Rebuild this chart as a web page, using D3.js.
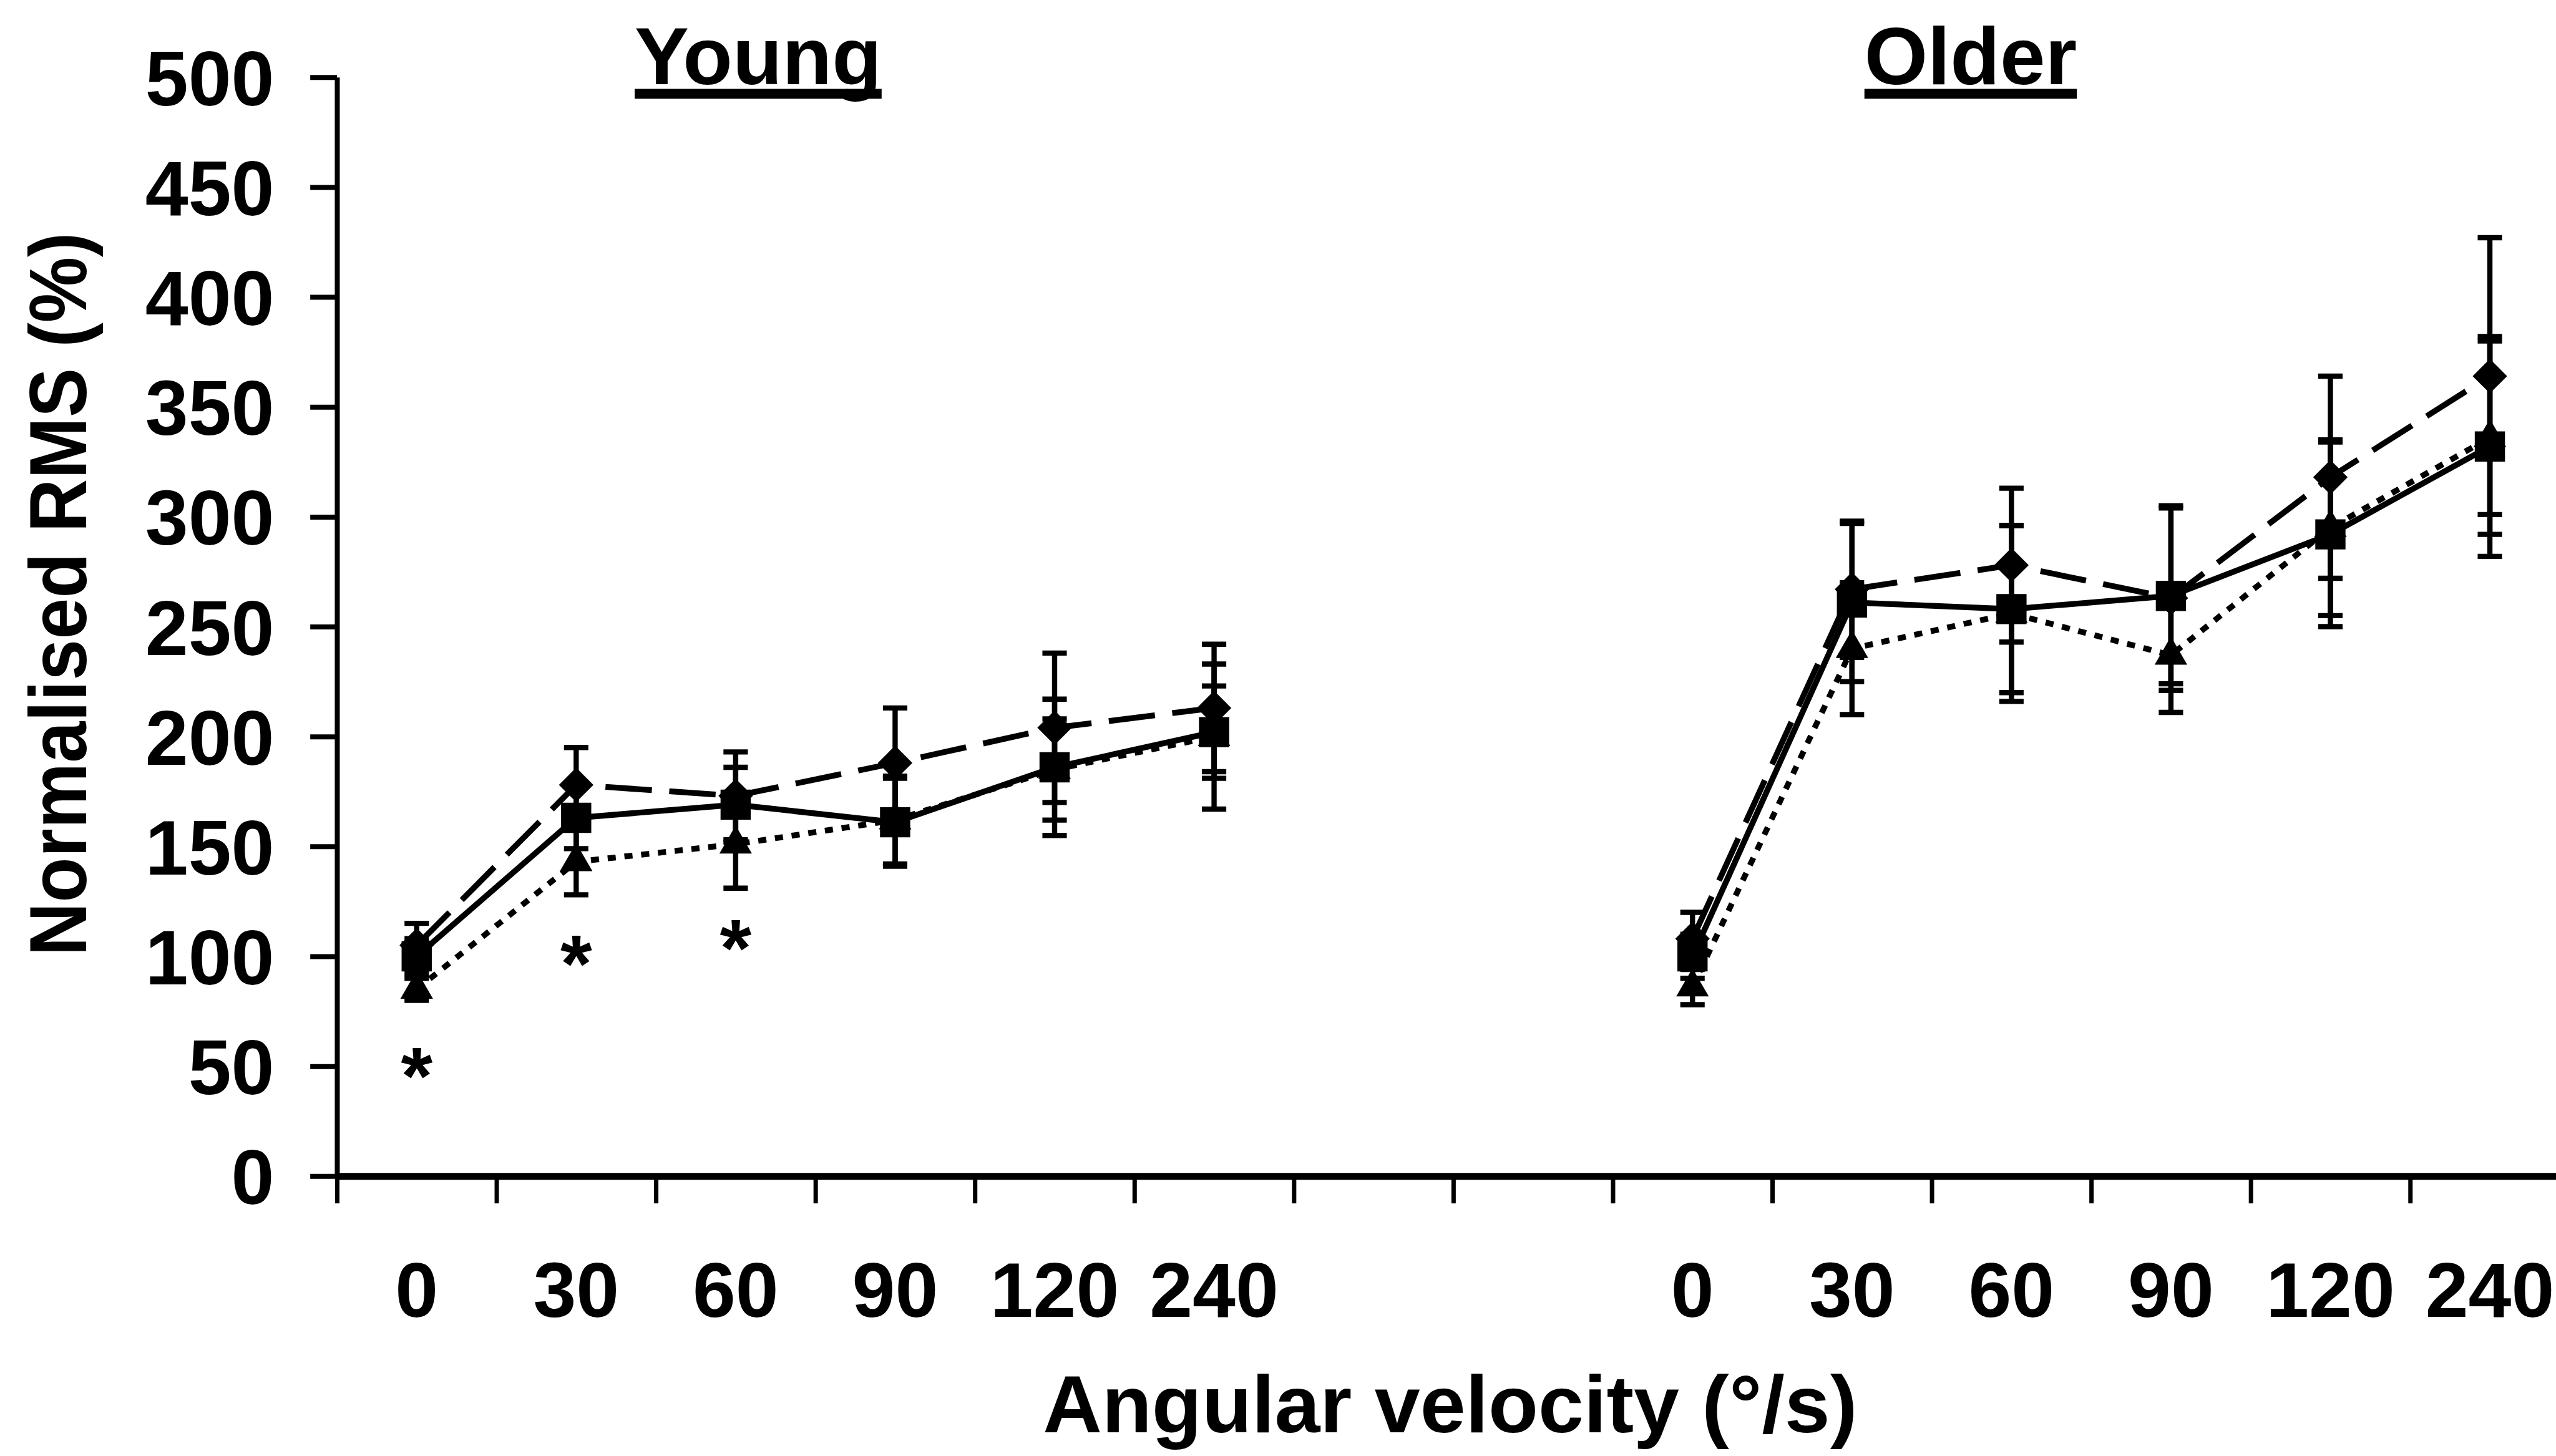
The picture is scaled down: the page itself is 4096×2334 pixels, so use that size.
<!DOCTYPE html>
<html>
<head>
<meta charset="utf-8">
<script src="https://cdn.jsdelivr.net/npm/d3@7"></script>
<style>
  html, body { margin: 0; padding: 0; background: #fff; }
  svg { display: block; }
  text { font-family: "Liberation Sans", Arial, sans-serif; font-weight: bold; fill: #000; }
</style>
</head>
<body>
<script>
// ---------------- data ----------------
const categories = ["0", "30", "60", "90", "120", "240", "", "", "0", "30", "60", "90", "120", "240"];
const yTicks = [0, 50, 100, 150, 200, 250, 300, 350, 400, 450, 500];
const groupTitles = ["Young", "Older"];

// dashed line, diamond markers
const diamondValues = [105, 178, 173, 188, 204, 213, null, null, 108, 267, 278, 263, 318, 364];
const diamondErrors = [10, 17, 20, 25, 34, 29, null, null, 12, 31, 35, 42, 46, 63];
// solid line, square markers
const squareValues = [100, 163, 169, 161, 186, 202, null, null, 100, 261, 258, 264, 292, 332];
const squareErrors = [8, 14, 17, 20, 31, 21, null, null, 10, 36, 38, 40, 42, 50];
// dotted line, triangle markers
const triangleValues = [85, 143, 151, 162, 185, 200, null, null, 86, 240, 256, 237, 295, 336];
const triangleErrors = [5, 15, 20, 20, 23, 33, null, null, 8, 30, 40, 26, 40, 44];

// significance stars (category index, value)
const starCategories = [0, 1, 2];
const starValues = [55, 106, 113];

const yTitle = "Normalised RMS (%)";
const xTitle = "Angular velocity  (°/s)";

// ---------------- layout ----------------
const S = 0.931;
const W = 4096, H = 2334;

const svg = d3.select("body").append("svg")
  .attr("width", W).attr("height", H)
  .attr("viewBox", `0 0 ${W} ${H}`);

svg.append("rect").attr("width", W).attr("height", H).attr("fill", "#fff");

const y = d3.scaleLinear().domain([0, 500]).range([2025 * S, 133 * S]);
const xLin = d3.scaleLinear().domain([0, categories.length]).range([580 * S, 4423 * S]);
const xc = i => xLin(i + 0.5);

const fontTick = 133 * S;

// ---------------- axes ----------------
const yAxis = d3.axisLeft(y)
  .tickValues(yTicks)
  .tickSize(46 * S)
  .tickSizeOuter(0)
  .tickPadding(62 * S);

const gy = svg.append("g")
  .attr("transform", `translate(${xLin(0)},0)`)
  .call(yAxis);
gy.select(".domain").attr("stroke", "#000").attr("stroke-width", 8);
gy.selectAll(".tick line").attr("stroke", "#000").attr("stroke-width", 8);
gy.selectAll(".tick text")
  .attr("font-size", fontTick)
  .attr("font-family", "Liberation Sans, Arial, sans-serif")
  .attr("font-weight", "bold")
  .attr("dy", "0.36em")
  .attr("fill", "#000");

const xAxis = d3.axisBottom(xLin)
  .tickValues(d3.range(categories.length + 1))
  .tickSize(47 * S)
  .tickSizeOuter(0)
  .tickFormat("");

const gx = svg.append("g")
  .attr("transform", `translate(0,${y(0)})`)
  .call(xAxis);
gx.select(".domain").attr("stroke", "#000").attr("stroke-width", 11);
gx.selectAll(".tick line").attr("stroke", "#000").attr("stroke-width", 7);

// category labels
svg.append("g").selectAll("text")
  .data(categories)
  .join("text")
  .attr("x", (d, i) => xc(i))
  .attr("y", 2267 * S)
  .attr("text-anchor", "middle")
  .attr("font-size", fontTick)
  .text(d => d);

// ---------------- series ----------------
const series = [
  { values: diamondValues, errors: diamondErrors, dash: `${80 * S},${30 * S}`, marker: "diamond" },
  { values: triangleValues, errors: triangleErrors, dash: `${14 * S},${15 * S}`, marker: "triangle" },
  { values: squareValues, errors: squareErrors, dash: null, marker: "square" }
];

const line = d3.line()
  .defined(d => d.v != null)
  .x(d => xc(d.i))
  .y(d => y(d.v));

const capHalf = 21 * S;
const lw = 10 * S;

series.forEach(s => {
  const pts = s.values.map((v, i) => ({ i, v, e: s.errors[i] }));
  const g = svg.append("g");
  g.append("path")
    .attr("d", line(pts))
    .attr("fill", "none")
    .attr("stroke", "#000")
    .attr("stroke-width", lw)
    .attr("stroke-dasharray", s.dash)
    .attr("stroke-linejoin", "round");

  const valid = pts.filter(d => d.v != null);
  // error bars
  const eb = g.append("g").attr("stroke", "#000").attr("stroke-width", 9 * S);
  eb.selectAll("line.stem").data(valid).join("line")
    .attr("class", "stem")
    .attr("x1", d => xc(d.i)).attr("x2", d => xc(d.i))
    .attr("y1", d => y(d.v + d.e)).attr("y2", d => y(d.v - d.e));
  eb.selectAll("line.capt").data(valid).join("line")
    .attr("class", "capt")
    .attr("x1", d => xc(d.i) - capHalf).attr("x2", d => xc(d.i) + capHalf)
    .attr("y1", d => y(d.v + d.e)).attr("y2", d => y(d.v + d.e));
  eb.selectAll("line.capb").data(valid).join("line")
    .attr("class", "capb")
    .attr("x1", d => xc(d.i) - capHalf).attr("x2", d => xc(d.i) + capHalf)
    .attr("y1", d => y(d.v - d.e)).attr("y2", d => y(d.v - d.e));

  // markers
  let sym, rot = 0;
  if (s.marker === "square") sym = d3.symbol(d3.symbolSquare, Math.pow(52 * S, 2));
  else if (s.marker === "diamond") { sym = d3.symbol(d3.symbolSquare, Math.pow(42 * S, 2)); rot = 45; }
  else sym = d3.symbol(d3.symbolTriangle, Math.sqrt(3) / 4 * Math.pow(56 * S, 2));

  g.selectAll("path.marker").data(valid).join("path")
    .attr("class", "marker")
    .attr("d", sym)
    .attr("transform", d => `translate(${xc(d.i)},${y(d.v)}) rotate(${rot})`)
    .attr("fill", "#000");
});

// stars
const starSize = 140 * S;
svg.append("g").selectAll("text")
  .data(starCategories)
  .join("text")
  .attr("x", d => xc(d))
  .attr("y", (d, k) => y(starValues[k]) + 0.6 * starSize)
  .attr("text-anchor", "middle")
  .attr("font-size", starSize)
  .text("*");

// ---------------- titles ----------------
const titleSize = 140 * S;
const titleX = [1305 * S, 3392 * S];
groupTitles.forEach((t, k) => {
  const tx = svg.append("text")
    .attr("x", titleX[k])
    .attr("y", 145 * S)
    .attr("text-anchor", "middle")
    .attr("font-size", titleSize)
    .text(t);
  const bb = tx.node().getBBox();
  svg.append("rect")
    .attr("x", bb.x)
    .attr("y", 153 * S)
    .attr("width", bb.width)
    .attr("height", 17 * S)
    .attr("fill", "#000");
});

svg.append("text")
  .attr("transform", `translate(${148 * S},${1023 * S}) rotate(-90)`)
  .attr("text-anchor", "middle")
  .attr("font-size", titleSize)
  .attr("textLength", 1246 * S)
  .attr("lengthAdjust", "spacingAndGlyphs")
  .text(yTitle);

svg.append("text")
  .attr("x", 2496 * S)
  .attr("y", 2466 * S)
  .attr("text-anchor", "middle")
  .attr("font-size", titleSize)
  .attr("textLength", 1402 * S)
  .attr("lengthAdjust", "spacingAndGlyphs")
  .text(xTitle);
</script>
</body>
</html>
